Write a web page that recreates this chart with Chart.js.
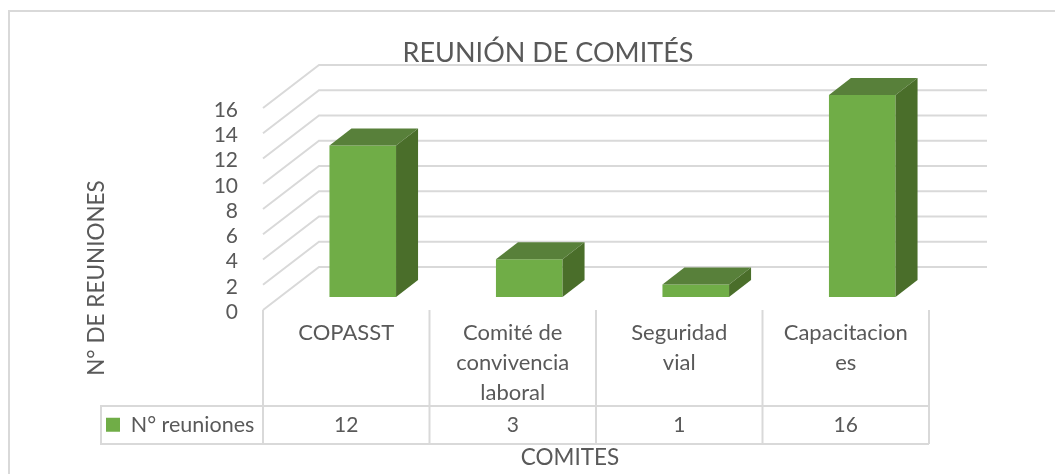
<!DOCTYPE html>
<html>
<head>
<meta charset="utf-8">
<style>
  html, body { margin: 0; padding: 0; background: #fff; }
  #wrap { width: 1055px; height: 474px; }
</style>
<script src="https://cdn.jsdelivr.net/npm/chart.js@4/dist/chart.umd.min.js"></script>
</head>
<body>
<div id="wrap"><canvas id="chart" width="1055" height="474"></canvas></div>
<script>
// Datos del gráfico
const categorias = [['COPASST'], ['Comité de', 'convivencia', 'laboral'], ['Seguridad', 'vial'], ['Capacitacion', 'es']];
const reuniones = [12, 3, 1, 16];
const nombreSerie = 'N° reuniones';
const titulo = 'REUNIÓN DE COMITÉS';
const tituloY = 'N° DE REUNIONES';
const tituloX = 'COMITES';

const FUENTE = 'Lato, sans-serif';
const TEXTO = '#595959';
const LINEA = '#d9d9d9';
const VERDE = '#70ad47';
const VERDE_ARRIBA = '#58803a';
const VERDE_LADO = '#4a6e2a';

// Fondo 3D: paredes, rejilla y tabla de datos
const fondo3d = {
  id: 'fondo3d',
  afterLayout(chart) {
    // mover título y leyenda a su sitio
    chart.titleBlock.left += 83.5;
    chart.titleBlock.right += 83.5;
    const l = chart.legend;
    l.left = 106; l.right = l.left + l.width;
    l.top = 414; l.bottom = l.top + l.height;
  },
  beforeDatasetsDraw(chart) {
    const c = chart.ctx, x = chart.scales.x, y = chart.scales.y;
    c.save();
    c.strokeStyle = LINEA;
    c.lineWidth = 2;
    // borde exterior: solo arriba e izquierda
    c.beginPath();
    c.moveTo(9, 474); c.lineTo(9, 11); c.lineTo(1055, 11);
    c.stroke();
    // rejilla en perspectiva
    y.ticks.forEach(t => {
      const py = y.getPixelForValue(t.value);
      c.beginPath();
      c.moveTo(x.left, py);
      c.lineTo(x.left + 56, py - 43);
      c.lineTo(987, py - 43);
      c.stroke();
    });
    // separadores de categoría y tabla
    for (let i = 0; i <= categorias.length; i++) {
      const px = x.left + i * x.width / categorias.length;
      c.beginPath();
      c.moveTo(px, y.bottom);
      c.lineTo(px, 444);
      c.stroke();
    }
    c.beginPath();
    c.moveTo(101, 406); c.lineTo(x.right, 406);
    c.moveTo(101, 444); c.lineTo(x.right, 444);
    c.moveTo(101, 405); c.lineTo(101, 445);
    c.stroke();
    c.restore();
  },
  beforeDatasetDraw(chart) {
    chart.ctx.save();
    chart.ctx.translate(16.5, -13);
  },
  afterDatasetDraw(chart, args) {
    const c = chart.ctx;
    const dx = 22, dy = 17;
    args.meta.data.forEach(b => {
      const x0 = b.x - b.width / 2, x1 = b.x + b.width / 2;
      c.fillStyle = VERDE_ARRIBA;
      c.beginPath();
      c.moveTo(x0, b.y); c.lineTo(x0 + dx, b.y - dy); c.lineTo(x1 + dx, b.y - dy); c.lineTo(x1, b.y);
      c.closePath(); c.fill();
      c.fillStyle = VERDE_LADO;
      c.beginPath();
      c.moveTo(x1, b.y); c.lineTo(x1 + dx, b.y - dy); c.lineTo(x1 + dx, b.base - dy); c.lineTo(x1, b.base);
      c.closePath(); c.fill();
    });
    c.restore();
  },
  afterDraw(chart) {
    const c = chart.ctx, x = chart.scales.x;
    c.save();
    c.fillStyle = TEXTO;
    c.textBaseline = 'middle';
    c.textAlign = 'center';
    c.font = '21px ' + FUENTE;
    reuniones.forEach((v, i) => c.fillText(String(v), x.getPixelForValue(i), 425));
    c.font = '22.5px ' + FUENTE;
    c.fillText(tituloX, 570, 458);
    c.translate(97, 278);
    c.rotate(-Math.PI / 2);
    c.fillText(tituloY, 0, 0);
    c.restore();
  }
};

new Chart(document.getElementById('chart'), {
  type: 'bar',
  data: {
    labels: categorias,
    datasets: [{
      label: nombreSerie,
      data: reuniones,
      backgroundColor: VERDE,
      barPercentage: 0.4,
      categoryPercentage: 1,
      clip: false
    }]
  },
  plugins: [fondo3d],
  options: {
    responsive: false,
    animation: false,
    layout: { padding: { left: 0, right: 126, top: 0, bottom: 0 } },
    plugins: {
      tooltip: { enabled: false },
      title: {
        display: true,
        text: titulo,
        color: TEXTO,
        font: { family: FUENTE, size: 27, weight: 'normal', lineHeight: 1.2 },
        padding: { top: 37, bottom: 38.6 }
      },
      legend: {
        position: 'chartArea',
        align: 'start',
        labels: {
          boxWidth: 14, boxHeight: 14, padding: 0,
          color: TEXTO,
          font: { family: FUENTE, size: 21.5 }
        }
      }
    },
    scales: {
      x: {
        afterFit(s) { s.height = 164; },
        grid: { display: false, drawTicks: false },
        border: { display: false },
        ticks: {
          color: TEXTO, padding: 8, maxRotation: 0, autoSkip: false,
          font: { family: FUENTE, size: 22, lineHeight: 1.36 }
        }
      },
      y: {
        min: 0, max: 16,
        afterFit(s) { s.width = 263; },
        grid: { display: false, drawTicks: false },
        border: { display: false },
        ticks: {
          stepSize: 2, color: TEXTO, padding: 25, autoSkip: false, labelOffset: 2,
          font: { family: FUENTE, size: 21 }
        }
      }
    }
  }
});
</script>
</body>
</html>
